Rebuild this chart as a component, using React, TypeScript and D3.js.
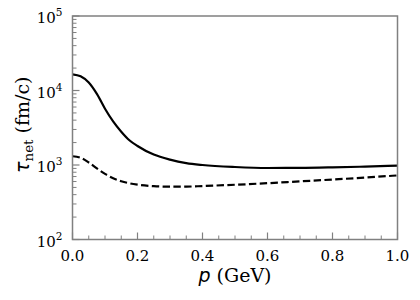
import React from "react";
import * as d3 from "d3";

const pValues = [0, 0.025, 0.05, 0.075, 0.1, 0.125, 0.15, 0.175, 0.2, 0.25, 0.3, 0.35, 0.4, 0.5, 0.6, 0.7, 0.8, 0.9, 1.0];
const tauSolid = [16500, 15500, 12800, 9000, 5700, 3850, 2800, 2150, 1800, 1380, 1180, 1060, 1000, 940, 912, 915, 930, 952, 980];
const tauDashed = [1310, 1250, 1080, 900, 760, 665, 605, 568, 545, 520, 512, 513, 522, 543, 570, 603, 638, 678, 725];
const xTicks = [0, 0.2, 0.4, 0.6, 0.8, 1.0];
const yTickExps = [2, 3, 4, 5];

const W = 420, H = 300;
const L = 72.5, R = 397.5, T = 16, B = 239.5;
const AX = "#808080";
const SERIF = "'DejaVu Serif', serif";
const SANS = "'DejaVu Sans', sans-serif";

export default function App() {
  const x = d3.scaleLinear().domain([0, 1]).range([L, R]);
  const y = d3.scaleLog().domain([100, 100000]).range([B, T]);
  const line = d3.line<number>()
    .x((_, i) => x(pValues[i]))
    .y((d) => y(d))
    .curve(d3.curveMonotoneX);

  const xMinor = d3.range(0, 1.0001, 0.05).filter((v) => Math.abs(Math.round(v * 5) - v * 5) > 1e-6);
  const yMinor: number[] = [];
  for (let e = 2; e < 5; e++) for (let k = 2; k <= 9; k++) yMinor.push(k * Math.pow(10, e));

  return (
    <svg width={W} height={H} style={{ position: "absolute", left: 0, top: 0, background: "#fff" }}>
      <rect x={0} y={0} width={W} height={H} fill="#fff" />
      {xTicks.map((v) => (
        <line key={"xt" + v} x1={x(v)} x2={x(v)} y1={B} y2={B - 7} stroke={AX} strokeWidth={1.2} />
      ))}
      {xMinor.map((v) => (
        <line key={"xm" + v} x1={x(v)} x2={x(v)} y1={B} y2={B - 4} stroke={AX} strokeWidth={1} />
      ))}
      {yTickExps.map((e) => (
        <line key={"yt" + e} x1={L} x2={L + 7} y1={y(Math.pow(10, e))} y2={y(Math.pow(10, e))} stroke={AX} strokeWidth={1.2} />
      ))}
      {yMinor.map((v) => (
        <line key={"ym" + v} x1={L} x2={L + 4} y1={y(v)} y2={y(v)} stroke={AX} strokeWidth={1} />
      ))}
      <path d={line(tauSolid) || ""} fill="none" stroke="#000" strokeWidth={2.2} />
      <path d={line(tauDashed) || ""} fill="none" stroke="#000" strokeWidth={2.2} strokeDasharray="7.4,3.4" />
      <rect x={L} y={T} width={R - L} height={B - T} fill="none" stroke={AX} strokeWidth={1.5} />
      {xTicks.map((v) => (
        <text key={"xl" + v} x={x(v)} y={B + 21.5} textAnchor="middle" fontFamily={SERIF} fontSize={15} fill="#000">
          {v.toFixed(1)}
        </text>
      ))}
      {yTickExps.map((e) => (
        <text key={"yl" + e} x={L - 10} y={y(Math.pow(10, e)) + 7} textAnchor="end" fontFamily={SERIF} fontSize={15} fill="#000">
          10
          <tspan dy={-7} fontSize={10.5}>{e}</tspan>
        </text>
      ))}
      <text x={(L + R) / 2} y={282} textAnchor="middle" fontFamily={SERIF} fontSize={19} fill="#000">
        <tspan fontFamily={SANS} fontStyle="italic">p</tspan> (GeV)
      </text>
      <text transform={`translate(29,${(T + B) / 2 - 3}) rotate(-90)`} textAnchor="middle" fontFamily={SERIF} fontSize={19} fill="#000">
        <tspan fontFamily={SANS} fontStyle="italic">τ</tspan>
        <tspan dy={4} fontSize={13.5}>net</tspan>
        <tspan dy={-4}> (fm/c)</tspan>
      </text>
    </svg>
  );
}
